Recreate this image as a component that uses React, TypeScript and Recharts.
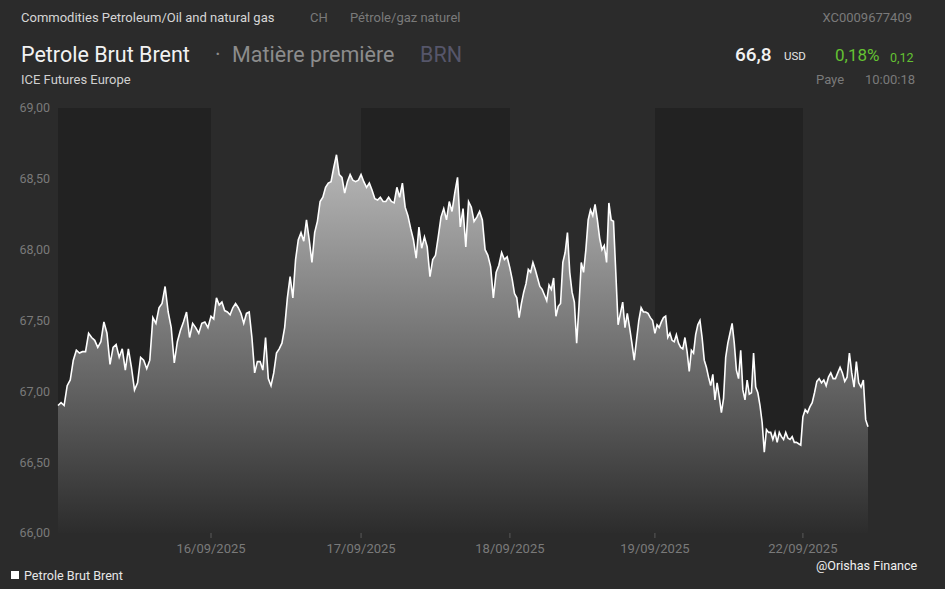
import { AreaChart, Area, XAxis, YAxis, CartesianGrid } from 'recharts'

// one array per trading session (intraday prices, USD)
const sessionDates = ['15/09/2025', '16/09/2025', '17/09/2025', '18/09/2025', '19/09/2025', '22/09/2025']
const sessionStart = [-0.034, 1, 2.014, 3.02, 4, 5]
const sessionEnd = [1, 2.014, 3.02, 4, 5, 5.44]

const day15 = [
  66.9, 66.92, 66.9, 67.04, 67.08, 67.22, 67.29, 67.27, 67.28, 67.28, 67.41, 67.38, 67.36, 67.31, 67.35, 67.49, 67.41,
  67.19, 67.31, 67.33, 67.24, 67.3, 67.15, 67.3, 67.17, 67.01, 67.06, 67.24, 67.22, 67.16, 67.22, 67.52, 67.48, 67.59,
  67.62, 67.74, 67.56, 67.45, 67.2, 67.35, 67.43, 67.49, 67.56, 67.38, 67.48, 67.45, 67.41, 67.48, 67.49, 67.45,
]
const day16 = [
  67.53, 67.51, 67.66, 67.61, 67.63, 67.57, 67.56, 67.54, 67.59, 67.62, 67.59, 67.55, 67.48, 67.55, 67.56, 67.38, 67.13,
  67.21, 67.21, 67.15, 67.38, 67.09, 67.04, 67.13, 67.27, 67.3, 67.34, 67.45, 67.66, 67.81, 67.66, 67.93, 68.07, 68.12,
  68.06, 68.21, 68.07, 67.91, 68.12, 68.2, 68.34, 68.37, 68.44, 68.47, 68.48, 68.58, 68.67, 68.53, 68.51, 68.4, 68.48,
  68.53, 68.49, 68.48, 68.49,
]
const day17 = [
  68.53, 68.48, 68.44, 68.47, 68.42, 68.36, 68.35, 68.37, 68.34, 68.34, 68.37, 68.34, 68.33, 68.44, 68.37, 68.47, 68.3,
  68.24, 68.15, 68.07, 67.94, 68.16, 68.01, 68.09, 68.02, 67.81, 67.93, 67.96, 68.09, 68.23, 68.29, 68.21, 68.34, 68.27,
  68.4, 68.51, 68.16, 68.29, 68.02, 68.34, 68.3, 68.2, 68.23, 68.27, 68.21, 68.0, 67.96, 67.88, 67.66, 67.84, 67.89,
  67.98, 67.93, 67.95,
]
const day18 = [
  67.87, 67.79, 67.69, 67.66, 67.52, 67.62, 67.7, 67.76, 67.86, 67.84, 67.91, 67.86, 67.8, 67.74, 67.72, 67.68, 67.64,
  67.75, 67.72, 67.8, 67.53, 67.6, 67.62, 67.91, 67.98, 68.12, 67.84, 67.7, 67.63, 67.34, 67.6, 67.91, 67.84, 68.0,
  68.21, 68.28, 68.24, 68.32, 68.21, 68.08, 68.0, 68.03, 67.91, 68.33, 68.21, 68.2, 67.84, 67.47, 67.55, 67.63, 67.45,
  67.55, 67.45, 67.34, 67.22, 67.36, 67.5, 67.59, 67.56, 67.56, 67.55, 67.52, 67.5,
]
const day19 = [
  67.41, 67.47, 67.45, 67.49, 67.52, 67.53, 67.38, 67.41, 67.36, 67.35, 67.4, 67.34, 67.31, 67.3, 67.38, 67.28, 67.14,
  67.29, 67.27, 67.4, 67.47, 67.5, 67.38, 67.22, 67.17, 67.1, 67.04, 67.12, 66.94, 67.06, 66.96, 66.85, 66.95, 67.24,
  67.34, 67.41, 67.48, 67.34, 67.15, 67.09, 67.29, 67.01, 66.94, 67.08, 66.98, 66.99, 67.27, 67.03, 66.99, 66.9, 66.78,
  66.57, 66.73, 66.71, 66.71, 66.66, 66.71, 66.64, 66.71, 66.68, 66.66, 66.71, 66.67, 66.66, 66.68, 66.64, 66.64, 66.63,
  66.62,
]
const day22 = [
  66.82, 66.87, 66.85, 66.89, 66.92, 66.99, 67.07, 67.09, 67.06, 67.08, 67.04, 67.1, 67.13, 67.09, 67.09, 67.13, 67.17,
  67.13, 67.07, 67.1, 67.27, 67.13, 67.03, 67.21, 67.06, 67.03, 67.08, 66.8, 66.75,
]
const sessions = [day15, day16, day17, day18, day19, day22]

const priceTicks = [66, 66.5, 67, 67.5, 68, 68.5, 69]
const refPrice = 66.9

const data = sessions.flatMap((vals, d) => {
  const last = d === sessions.length - 1
  const step = (sessionEnd[d] - sessionStart[d]) / (last ? vals.length - 1 : vals.length)
  return vals.map((price, j) => ({ t: sessionStart[d] + j * step, price }))
})

const FONT = 'Roboto, "Noto Sans", sans-serif'
const GREY = '#7a7a7a'

const fmt = (v: number) => v.toFixed(2).replace('.', ',')

const DateTick = (props: any) => {
  const { x, y, payload } = props
  const i = sessionStart.indexOf(payload.value)
  if (i <= 0) return null
  return (
    <g>
      <line x1={x} x2={x} y1={y - 8} y2={y - 3} stroke="#5a5a5a" strokeWidth={1} />
      <text x={x} y={y + 12} textAnchor="middle" fill={GREY} fontSize={13} fontFamily={FONT}>
        {sessionDates[i]}
      </text>
    </g>
  )
}

const Txt = ({ x, y, size = 13, color = GREY, right, weight, children }: any) => (
  <div
    style={{
      position: 'absolute',
      left: right ? undefined : x,
      right: right ? 945 - x : undefined,
      top: y - size * 0.6,
      fontSize: size,
      lineHeight: `${size * 1.2}px`,
      color,
      fontWeight: weight || 400,
      whiteSpace: 'nowrap',
    }}
  >
    {children}
  </div>
)

export default function App() {
  return (
    <div
      style={{
        position: 'absolute',
        left: 0,
        top: 0,
        width: 945,
        height: 589,
        background: '#2b2b2b',
        fontFamily: FONT,
        overflow: 'hidden',
      }}
    >
      <AreaChart width={945} height={589} data={data} margin={{ top: 108, right: 0, bottom: 26, left: 0 }}>
        <defs>
          <linearGradient id="brentFill" x1="0" y1="108" x2="0" y2="533" gradientUnits="userSpaceOnUse">
            <stop offset="0%" stopColor="#cacaca" />
            <stop offset="100%" stopColor="#2c2c2c" />
          </linearGradient>
        </defs>
        <CartesianGrid horizontal={false} vertical stroke="none" verticalFill={['#222222', '#2b2b2b']} />
        <XAxis
          dataKey="t"
          type="number"
          domain={['dataMin', 'dataMax']}
          ticks={sessionStart}
          interval={0}
          height={30}
          axisLine={false}
          tickLine={false}
          tick={<DateTick />}
        />
        <YAxis
          yAxisId="left"
          width={58}
          domain={[66, 69]}
          ticks={priceTicks}
          interval={0}
          axisLine={false}
          tickLine={false}
          tickFormatter={fmt}
          tick={{ fill: GREY, fontSize: 12.5, fontFamily: FONT }}
        />
        <YAxis
          yAxisId="right"
          orientation="right"
          width={77}
          domain={[66, 69]}
          ticks={priceTicks}
          interval={0}
          axisLine={false}
          tickLine={false}
          tickMargin={4}
          tickFormatter={(v: number) => fmt((v / refPrice) * 100) + '%'}
          tick={{ fill: GREY, fontSize: 12.5, fontFamily: FONT }}
        />
        <Area
          yAxisId="left"
          type="linear"
          dataKey="price"
          stroke="#ffffff"
          strokeWidth={1.6}
          fill="url(#brentFill)"
          fillOpacity={1}
          dot={false}
          activeDot={false}
          isAnimationActive={false}
        />
      </AreaChart>

      <Txt x={21} y={18} color="#d6d6d6">Commodities Petroleum/Oil and natural gas</Txt>
      <Txt x={310} y={18}>CH</Txt>
      <Txt x={350} y={18}>Pétrole/gaz naturel</Txt>
      <Txt x={912} y={18} right>XC0009677409</Txt>

      <Txt x={21} y={55} size={21.5} color="#f2f2f2">Petrole Brut Brent</Txt>
      <Txt x={215} y={55} size={21.5} color="#8c8c8c">·</Txt>
      <Txt x={232} y={55} size={21.5} color="#8c8c8c">Matière première</Txt>
      <Txt x={420} y={55} size={21.5} color="#56566a">BRN</Txt>
      <Txt x={735} y={55} size={19} color="#f2f2f2" weight={500}>66,8</Txt>
      <Txt x={784} y={57} size={11.5} color="#e6e6e6">USD</Txt>
      <Txt x={835} y={55} size={17} color="#64c232">0,18%</Txt>
      <Txt x={890} y={57} size={12.5} color="#64c232">0,12</Txt>

      <Txt x={21} y={80} color="#d0d0d0">ICE Futures Europe</Txt>
      <Txt x={816} y={80}>Paye</Txt>
      <Txt x={865} y={80}>10:00:18</Txt>

      <div style={{ position: 'absolute', left: 11, top: 571, width: 8, height: 8, background: '#ffffff' }} />
      <Txt x={24} y={576} size={12.6} color="#e6e6e6">Petrole Brut Brent</Txt>
      <Txt x={816} y={566} size={12.6} color="#f0f0f0">@Orishas Finance</Txt>
    </div>
  )
}
